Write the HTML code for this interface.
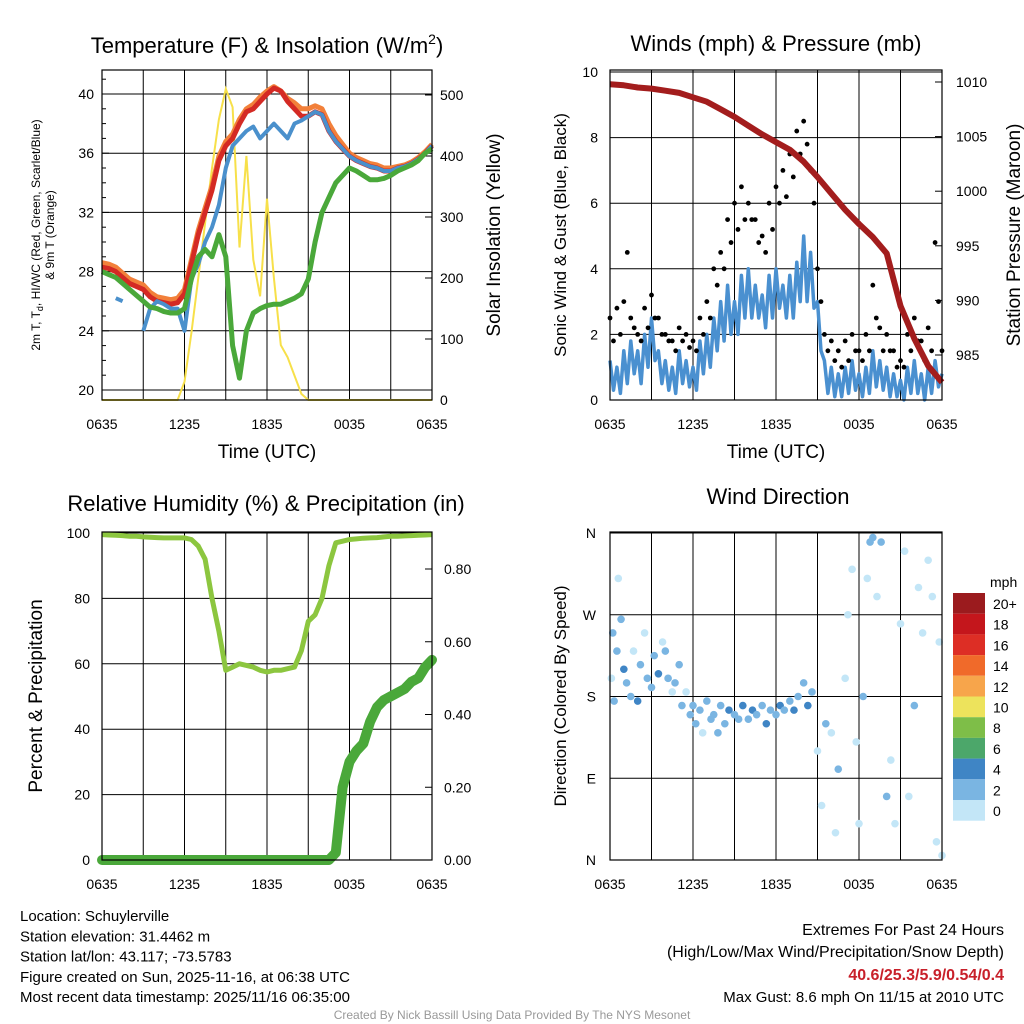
<!DOCTYPE html>
<html><head><meta charset="utf-8"><style>
html,body{margin:0;padding:0;background:#fff;}
svg{display:block;font-family:"Liberation Sans",Arial,sans-serif;}
</style></head><body>
<svg id="c" width="1024" height="1024" viewBox="0 0 1024 1024"></svg>
<script>
// ---- data (half-hourly, t = 0..24 h from 0635 UTC) ----
const timeLabels=["0635","1235","1835","0035","0635"];
const tempRed=[28.3,28.2,28.0,27.6,27.2,27.0,26.8,26.3,26.0,25.9,25.8,25.9,26.5,28.5,30.5,32,33.5,35.5,36.5,37,38,38.8,39,39.5,40,40.4,40.2,39.5,39,38.5,38.5,38.8,38.6,37.5,36.8,36.3,35.8,35.5,35.3,35.1,35.0,34.8,34.8,35.0,35.1,35.3,35.6,36.0,36.5];
const tempOrange=[28.6,28.5,28.3,27.9,27.5,27.3,27.1,26.6,26.3,26.2,26.1,26.2,26.8,28.8,30.8,32.3,33.8,35.8,36.8,37.3,38.3,39.0,39.3,39.8,40.2,40.5,40.2,39.7,39.4,39.0,39.0,39.2,39.0,38.0,37.2,36.6,36.0,35.7,35.5,35.3,35.2,35.0,35.0,35.1,35.2,35.4,35.7,36.1,36.6];
const tempBlue=[null,null,26.2,26.0,null,null,24.0,25.5,26.0,25.8,25.5,25.5,24.0,27.5,28.5,30,31,32.5,35,36.5,37,37.5,37.8,37,37.5,38,37.5,37,38,38.2,38.5,38.8,38.6,37.5,36.8,36.3,35.8,35.5,35.3,35.1,35.0,34.8,34.8,35.0,35.1,35.3,35.6,36.0,36.5];
const dewGreen=[28,27.8,27.6,27.2,26.8,26.4,26,25.6,25.5,25.3,25.2,25.2,25.5,27.5,29,29.5,29,30.5,29,23,20.8,24,25.2,25.5,25.7,25.8,25.8,26,26.2,26.5,27.5,30,32,33,34,34.5,35,34.8,34.5,34.2,34.2,34.3,34.5,34.8,35,35.2,35.5,36,36.3];
const solar=[0,0,0,0,0,0,0,0,0,0,0,0,30,110,200,290,380,460,510,480,250,400,230,170,330,200,90,70,40,10,0,0,0,0,0,0,0,0,0,0,0,0,0,0,0,0,0,0,0];
const windHigh=[1.2,1.0,1.5,1.8,1.5,2.0,2.5,1.5,1.2,1.0,1.5,1.2,1.0,1.8,2.0,2.5,3.0,3.5,3.0,3.8,4.0,3.5,3.2,3.8,4.0,3.5,3.8,4.2,5.0,4.5,3.0,1.2,1.0,0.8,1.0,1.2,0.8,1.0,1.5,1.2,1.0,0.8,0.6,1.0,1.2,0.8,1.0,1.2,0.8];
const windLow=[0.3,0.2,0.5,0.8,0.5,1.0,1.2,0.5,0.3,0.2,0.5,0.4,0.3,0.8,1.0,1.5,1.8,2.0,2.0,2.5,2.5,2.5,2.2,2.5,2.8,2.5,2.5,3.0,3.0,2.8,1.5,0.2,0.1,0.1,0.2,0.3,0.1,0.2,0.4,0.3,0.1,0.1,0.0,0.2,0.2,0.0,0.2,0.4,0.1];
const gustA=[2.5,2.8,3.0,2.5,2.0,2.8,3.2,2.5,2.0,1.8,2.2,2.0,1.8,2.5,3.0,4.0,4.5,5.5,6.0,6.5,6.0,5.5,5.0,6.0,6.5,7.0,7.5,8.2,8.5,7.0,4.0,2.0,1.8,1.5,1.8,2.0,1.5,2.0,3.5,2.2,2.0,1.5,1.2,2.0,2.5,1.8,2.2,4.8,1.5];
const gustB=[1.8,2.0,4.5,2.2,1.8,2.2,2.5,2.0,1.8,1.5,1.8,1.6,1.5,2.0,2.5,3.5,4.0,4.8,5.2,5.5,5.5,4.8,4.5,5.2,6.0,6.2,6.8,7.5,7.8,6.0,3.0,1.5,1.2,1.0,1.2,1.5,1.2,1.5,2.5,1.5,1.5,1.0,1.0,1.5,1.8,1.2,1.5,3.0,1.2];
const pressure=[1009.8,1009.7,1009.5,1009.4,1009.2,1009.0,1008.6,1008.2,1007.5,1006.8,1006.0,1005.2,1004.5,1003.8,1002.7,1001.3,999.8,998.3,997.0,995.8,994.3,989.5,986.5,984.0,982.5]; // hourly
const rh=[99.5,99.4,99.3,99.2,99.0,99.0,98.8,98.7,98.6,98.5,98.5,98.5,98.5,98,96,92,80,70,58,59,60,59.5,59,58,57.5,58,58,58.5,59,64,73,75,80,90,97,97.5,98,98.2,98.4,98.5,98.6,98.8,99,99,99.1,99.2,99.3,99.4,99.5];
const precip=[0,0,0,0,0,0,0,0,0,0,0,0,0,0,0,0,0,0,0,0,0,0,0,0,0,0,0,0,0,0,0,0,0,0,0.02,0.2,0.27,0.3,0.32,0.38,0.42,0.44,0.45,0.46,0.47,0.49,0.5,0.53,0.55];
const dirT=[0.1,0.2,0.3,0.5,0.6,0.8,1,1.2,1.5,1.7,2,2.2,2.5,2.7,3,3.2,3.5,3.8,4,4.2,4.5,4.7,5,5.2,5.5,5.8,6,6.2,6.5,6.7,7,7.3,7.5,7.8,8,8.3,8.6,9,9.3,9.6,10,10.3,10.6,11,11.3,11.6,12,12.3,12.6,13,13.3,13.6,14,14.3,14.6,15,15.3,15.6,16,16.3,16.5,17,17.2,17.5,17.8,18,18.3,18.6,18.8,19,19.3,19.6,20,20.3,20.6,21,21.3,21.6,22,22.3,22.6,23,23.3,23.6,23.8,24];
const dirDeg=[200,250,175,230,310,265,210,195,180,230,175,215,250,200,190,225,205,240,230,200,185,195,215,170,185,160,170,150,165,140,175,155,160,140,170,150,165,160,155,170,155,165,160,170,150,165,160,170,165,175,165,180,195,170,185,120,60,150,140,30,100,200,270,320,130,40,180,310,350,355,290,350,70,110,40,260,340,70,170,300,250,330,290,20,240,5];
const dirSpd=[1,2,3,2,1,3,4,2,3,1,4,2,1,3,3,2,4,1,3,2,1,3,2,3,1,3,2,3,2,1,3,2,3,2,3,2,4,2,3,4,3,4,2,3,4,3,2,4,3,2,5,3,2,4,2,1,1,2,1,1,2,1,1,0,1,1,2,1,2,3,1,2,2,1,1,1,0,1,2,1,1,0,1,1,1,1];
const cbLabels=["20+","18","16","14","12","10","8","6","4","2","0"];
const cbColors=["#9b1b1e","#c4161c","#dd2e25","#f06a2a","#f7a54b","#ede35c","#7ebe48","#4ca76a","#3f85c5","#7ab5e2","#c3e6f7"];

const NS="http://www.w3.org/2000/svg";
const svg=document.getElementById('c');
function el(tag,attrs,parent){const e=document.createElementNS(NS,tag);for(const k in attrs)e.setAttribute(k,attrs[k]);(parent||svg).appendChild(e);return e;}
function txt(x,y,s,size,anchor,parent,extra){const e=el('text',Object.assign({x:x,y:y,'font-size':size,'text-anchor':anchor||'middle',fill:'#000'},extra||{}),parent);e.textContent=s;return e;}

function panel(name,x0,x1,y0,y1){
  const g=el('g',{});
  
  
  const xs=t=>x0+(x1-x0)*t/24;
  for(let h=3;h<24;h+=3){el('line',{x1:xs(h),x2:xs(h),y1:y0,y2:y1,stroke:'#000','stroke-width':1},g);}
  timeLabels.forEach((l,i)=>{const tl=txt(xs(i*6),y1+29,l,14,'middle',g);
    el('line',{x1:xs(i*6),x2:xs(i*6),y1:y1,y2:y1-7,stroke:'#000'},g);});
  return {g,xs};
}
function frame(g,x0,x1,y0,y1){el('rect',{x:x0,y:y0,width:x1-x0,height:y1-y0,fill:'none',stroke:'#000','stroke-width':1.2},g);}
function pathFrom(vals,xf,yf,stepT){let d='',pen=false;vals.forEach((v,i)=>{if(v===null){pen=false;return;}d+=(pen?'L':'M')+xf(i*stepT).toFixed(1)+','+yf(v).toFixed(1);pen=true;});return d;}

// ===== Panel 1 =====
(function(){
  const x0=102,x1=432,y0=70,y1=400;
  const {g,xs}=panel('temperature-panel',x0,x1,y0,y1);
  const yT=v=>390-(v-20)*(296/20);
  const yS=v=>400-v*0.61;
  [20,24,28,32,36,40].forEach(v=>{el('line',{x1:x0,x2:x1,y1:yT(v),y2:yT(v),stroke:'#000'},g);const t=txt(x0-8,yT(v)+5,String(v),14,'end',g);});
  for(let v=20;v<=41;v++)el('line',{x1:x0,x2:x0+(v%4?4:7),y1:yT(v),y2:yT(v),stroke:'#000'},g);
  [0,100,200,300,400,500].forEach(v=>{const t=txt(x1+8,yS(v)+5,String(v),14,'start',g);el('line',{x1:x1,x2:x1-7,y1:yS(v),y2:yS(v),stroke:'#000'},g);});
  const s=el('path',{d:pathFrom(solar,xs,yS,0.5),fill:'none',stroke:'#f7e04a','stroke-width':2},g);
  
  const o=el('path',{d:pathFrom(tempOrange,xs,yT,0.5),fill:'none',stroke:'#f2803a','stroke-width':5,'stroke-linejoin':'round'},g);
  
  const r=el('path',{d:pathFrom(tempRed,xs,yT,0.5),fill:'none',stroke:'#d42a24','stroke-width':5,'stroke-linejoin':'round'},g);
  
  const b=el('path',{d:pathFrom(tempBlue,xs,yT,0.5),fill:'none',stroke:'#4a90cc','stroke-width':4,'stroke-linejoin':'round'},g);
  
  const gr=el('path',{d:pathFrom(dewGreen,xs,yT,0.5),fill:'none',stroke:'#4aa83a','stroke-width':5,'stroke-linejoin':'round'},g);
  
  frame(g,x0,x1,y0,y1);
  const t1=txt(267,53,'Temperature (F) & Insolation (W/m',22,'middle',g);
  const sup=el('tspan',{dy:-9,'font-size':14},t1);sup.textContent='2';const cl=el('tspan',{dy:9},t1);cl.textContent=')';
  
  const xt=txt(267,458,'Time (UTC)',19,'middle',g);
  const yl=txt(0,0,'2m T, T',12,'middle',g,{transform:'translate(40,235) rotate(-90)'});
  const sb=el('tspan',{dy:3,'font-size':9},yl);sb.textContent='d';const rest=el('tspan',{dy:-3},yl);rest.textContent=', HI/WC (Red, Green, Scarlet/Blue)';
  
  const yl2=txt(0,0,'& 9m T (Orange)',12,'middle',g,{transform:'translate(54,235) rotate(-90)'});
  
  const yr=txt(0,0,'Solar Insolation (Yellow)',19,'middle',g,{transform:'translate(500,235) rotate(-90)'});
  
})();

// ===== Panel 2 =====
(function(){
  const x0=610,x1=942,y0=70,y1=400;
  const {g,xs}=panel('winds-panel',x0,x1,y0,y1);
  const yW=v=>400-v*32.8;
  const yP=v=>82+(1010-v)*10.92;
  [0,2,4,6,8,10].forEach(v=>{el('line',{x1:x0,x2:x1,y1:yW(v),y2:yW(v),stroke:'#000'},g);const t=txt(x0-12,yW(v)+5,String(v),14,'end',g);});
  [985,990,995,1000,1005,1010].forEach(v=>{const t=txt(x1+14,yP(v)+5,String(v),14,'start',g);el('line',{x1:x1,x2:x1-7,y1:yP(v),y2:yP(v),stroke:'#000'},g);});
  let d='';windHigh.forEach((v,i)=>{d+=(i?'L':'M')+xs(i*0.5).toFixed(1)+','+yW(v).toFixed(1);if(i<48)d+='L'+xs(i*0.5+0.25).toFixed(1)+','+yW(windLow[i]).toFixed(1);});
  const w=el('path',{d:d,fill:'none',stroke:'#4a90d0','stroke-width':3.5,'stroke-linejoin':'round'},g);
  
  gustA.forEach((v,i)=>{const c=el('circle',{cx:xs(i*0.5),cy:yW(v),r:2.4,fill:'#000'},g);});
  gustB.forEach((v,i)=>{if(i>=48)return;const c=el('circle',{cx:xs(i*0.5+0.25),cy:yW(v),r:2.4,fill:'#000'},g);});
  const p=el('path',{d:pathFrom(pressure,xs,yP,1),fill:'none',stroke:'#a31d1d','stroke-width':6,'stroke-linejoin':'round'},g);
  
  frame(g,x0,x1,y0,y1);
  const t=txt(776,51,'Winds (mph) & Pressure (mb)',22,'middle',g);
  const xt=txt(776,458,'Time (UTC)',19,'middle',g);
  const yl=txt(0,0,'Sonic Wind & Gust (Blue, Black)',17,'middle',g,{transform:'translate(566,235) rotate(-90)'});
  const yr=txt(0,0,'Station Pressure (Maroon)',19,'middle',g,{transform:'translate(1020,235) rotate(-90)'});
})();

// ===== Panel 3 =====
(function(){
  const x0=102,x1=432,y0=532,y1=860;
  const {g,xs}=panel('humidity-panel',x0,x1,y0,y1);
  const yR=v=>860-v*3.27;
  const yPr=v=>860-v*363.75;
  [0,20,40,60,80,100].forEach(v=>{el('line',{x1:x0,x2:x1,y1:yR(v),y2:yR(v),stroke:'#000'},g);const t=txt(x0-12,yR(v)+5,String(v),14,'end',g);});
  ['0.00','0.20','0.40','0.60','0.80'].forEach(s=>{const v=parseFloat(s);const t=txt(x1+12,yPr(v)+5,s,14,'start',g);el('line',{x1:x1,x2:x1-7,y1:yPr(v),y2:yPr(v),stroke:'#000'},g);});
  const r=el('path',{d:pathFrom(rh,xs,yR,0.5),fill:'none',stroke:'#8cc63f','stroke-width':5,'stroke-linejoin':'round'},g);
  
  const p=el('path',{d:pathFrom(precip,xs,yPr,0.5),fill:'none',stroke:'#4aa83a','stroke-width':10,'stroke-linejoin':'round','stroke-linecap':'round'},g);
  
  frame(g,x0,x1,y0,y1);
  const t=txt(266,511,'Relative Humidity (%) & Precipitation (in)',22,'middle',g);
  const yl=txt(0,0,'Percent & Precipitation',19,'middle',g,{transform:'translate(42,696) rotate(-90)'});
})();

// ===== Panel 4 =====
(function(){
  const x0=610,x1=942,y0=532,y1=860;
  const {g,xs}=panel('wind-direction-panel',x0,x1,y0,y1);
  const yD=v=>860-v*(327/360);
  [[360,'N'],[270,'W'],[180,'S'],[90,'E'],[0,'N']].forEach(([v,l])=>{el('line',{x1:x0,x2:x1,y1:yD(v),y2:yD(v),stroke:'#000'},g);const t=txt(x0-14,yD(v)+5,l,14,'end',g);});
  const colorFor=s=>cbColors[10-Math.min(10,Math.floor(s/2))];
  dirT.forEach((t,i)=>{const c=el('circle',{cx:xs(t),cy:yD(dirDeg[i]),r:3.8,fill:colorFor(dirSpd[i])},g);});
  frame(g,x0,x1,y0,y1);
  const t=txt(778,504,'Wind Direction',22,'middle',g);
  const yl=txt(0,0,'Direction (Colored By Speed)',17,'middle',g,{transform:'translate(566,696) rotate(-90)'});
  const cb=el('g',{},g);
  const ct=txt(990,587,'mph',14,'start',cb);
  cbColors.forEach((c,i)=>{const r=el('rect',{x:953,y:593+i*20.7,width:32,height:20.7,fill:c},cb);
    const l=txt(993,609+i*20.7,cbLabels[i],14,'start',cb);});
})();

// ===== Footer text =====
(function(){
  const g=el('g',{});
  ['Location: Schuylerville','Station elevation: 31.4462 m','Station lat/lon: 43.117; -73.5783','Figure created on Sun, 2025-11-16, at 06:38 UTC','Most recent data timestamp: 2025/11/16 06:35:00'].forEach((s,i)=>{const t=txt(20,921+i*20.3,s,15,'start',g);});
  const g2=el('g',{});
  const a=txt(1004,935,'Extremes For Past 24 Hours',16,'end',g2);
  const b=txt(1004,957,'(High/Low/Max Wind/Precipitation/Snow Depth)',16,'end',g2);
  const c=txt(1004,980,'40.6/25.3/5.9/0.54/0.4',16,'end',g2,{fill:'#c8202a','font-weight':'bold'});
  const d=txt(1004,1002,'Max Gust: 8.6 mph On 11/15 at 2010 UTC',15,'end',g2);
  const e=txt(512,1019,'Created By Nick Bassill Using Data Provided By The NYS Mesonet',12,'middle',null,{fill:'#999'});
})();
</script>
</body></html>
